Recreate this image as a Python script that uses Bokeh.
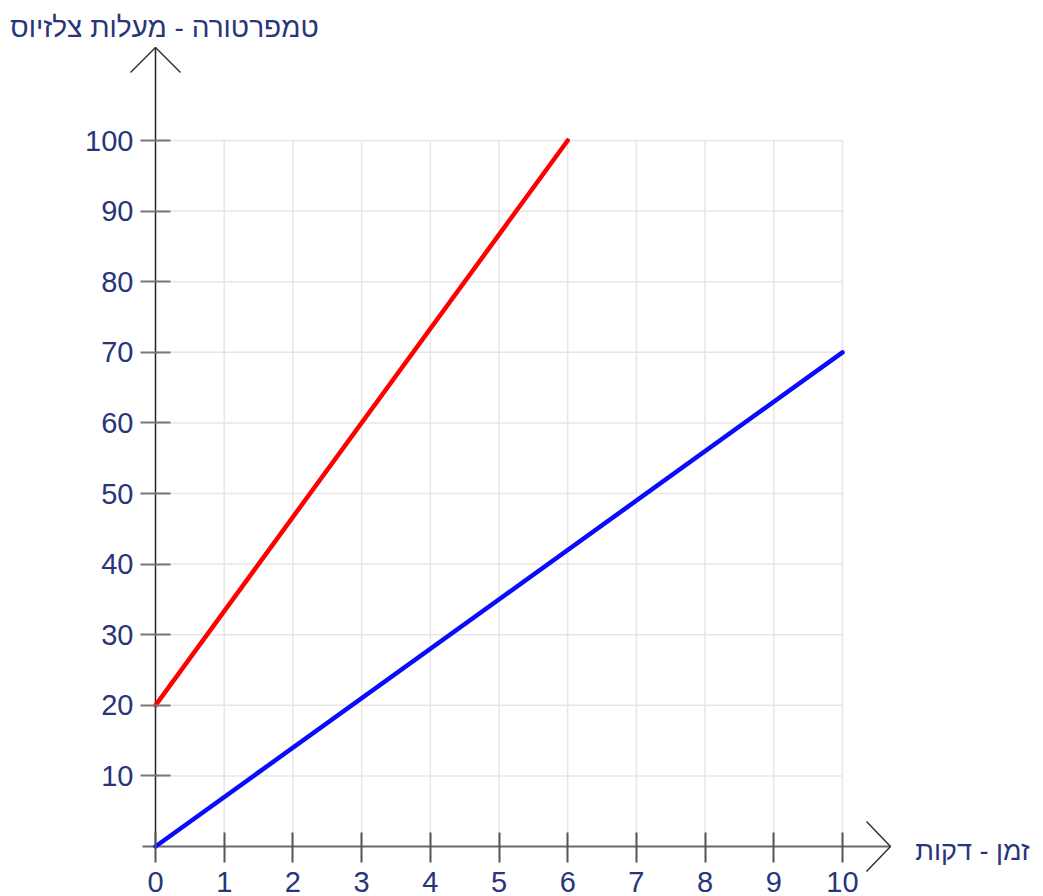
from bokeh.plotting import figure
from bokeh.models import FixedTicker, Label, Range1d
from bokeh.embed import file_html
from bokeh.resources import INLINE

# ---- data ----
x_ticks = [0, 1, 2, 3, 4, 5, 6, 7, 8, 9, 10]
y_ticks = [10, 20, 30, 40, 50, 60, 70, 80, 90, 100]
red_x = [0, 6]
red_y = [20, 100]
blue_x = [0, 10]
blue_y = [0, 70]
y_title = "טמפרטורה - מעלות צלזיוס"
x_title = "זמן - דקות"

# ---- layout (pixel calibration) ----
W, H = 1043, 896
X0PX, X10PX = 155, 842
Y0PX, Y100PX = 846, 140
sx = (X10PX - X0PX) / 10.0
sy = (Y0PX - Y100PX) / 100.0
x_start = -X0PX / sx
x_end = (W - X0PX) / sx
y_start = -(H - Y0PX) / sy
y_end = Y0PX / sy

def dx(px):
    return (px - X0PX) / sx

def dy(py):
    return (Y0PX - py) / sy

p = figure(width=W, height=H, x_range=Range1d(x_start, x_end),
           y_range=Range1d(y_start, y_end), output_backend="svg",
           toolbar_location=None, min_border=0, outline_line_color=None)
p.grid.visible = False

xmax = max(x_ticks)
ymax = max(y_ticks)

# grid
gx = [t for t in x_ticks if t != 0]
p.segment(x0=gx, y0=[0] * len(gx), x1=gx, y1=[ymax] * len(gx),
          line_color="#e6e6e6", line_width=1.5)
p.segment(x0=[0] * len(y_ticks), y0=y_ticks, x1=[xmax] * len(y_ticks), y1=y_ticks,
          line_color="#e6e6e6", line_width=1.5)

# axis lines + arrow heads
ytip = dy(47)
xtip = dx(890)
p.segment(x0=[dx(142)], y0=[0], x1=[xtip], y1=[0], line_color="#6b6b6b", line_width=2)
p.segment(x0=[0], y0=[0], x1=[0], y1=[ytip], line_color="#222222", line_width=1.5)
p.multi_line(xs=[[-25 / sx, 0, 25 / sx], [xtip - 24 / sx, xtip, xtip - 24 / sx]],
             ys=[[ytip - 25 / sy, ytip, ytip - 25 / sy], [25 / sy, 0, -25 / sy]],
             line_color="#333333", line_width=1.5)

# data lines
p.line(red_x, red_y, line_color="#ff0000", line_width=4.5, line_cap="round")
p.line(blue_x, blue_y, line_color="#0a0aff", line_width=4.5, line_cap="round")

lab_color = "#28357a"
font = "Liberation Sans"

xa = p.xaxis[0]
xa.fixed_location = 0
xa.ticker = FixedTicker(ticks=x_ticks)
xa.axis_line_alpha = 0
xa.major_tick_in = 14
xa.major_tick_out = 16
xa.major_tick_line_color = "#555555"
xa.major_tick_line_width = 2
xa.minor_tick_line_color = None
xa.major_label_standoff = 9
xa.major_label_text_font = font
xa.major_label_text_font_size = "29px"
xa.major_label_text_color = lab_color

ya = p.yaxis[0]
ya.fixed_location = 0
ya.ticker = FixedTicker(ticks=y_ticks)
ya.axis_line_alpha = 0
ya.major_tick_in = 15
ya.major_tick_out = 15
ya.major_tick_line_color = "#777777"
ya.major_tick_line_width = 2
ya.minor_tick_line_color = None
ya.major_label_standoff = 7
ya.major_label_text_font = font
ya.major_label_text_font_size = "29px"
ya.major_label_text_color = lab_color

p.add_layout(Label(x=dx(164), y=dy(27), text=y_title, text_align="center",
                   text_baseline="middle", text_font=font, text_font_size="28px",
                   text_color=lab_color))
p.add_layout(Label(x=dx(972), y=dy(850), text=x_title, text_align="center",
                   text_baseline="middle", text_font=font, text_font_size="27px",
                   text_color=lab_color))

open("out.html", "w").write(file_html(p, INLINE))
